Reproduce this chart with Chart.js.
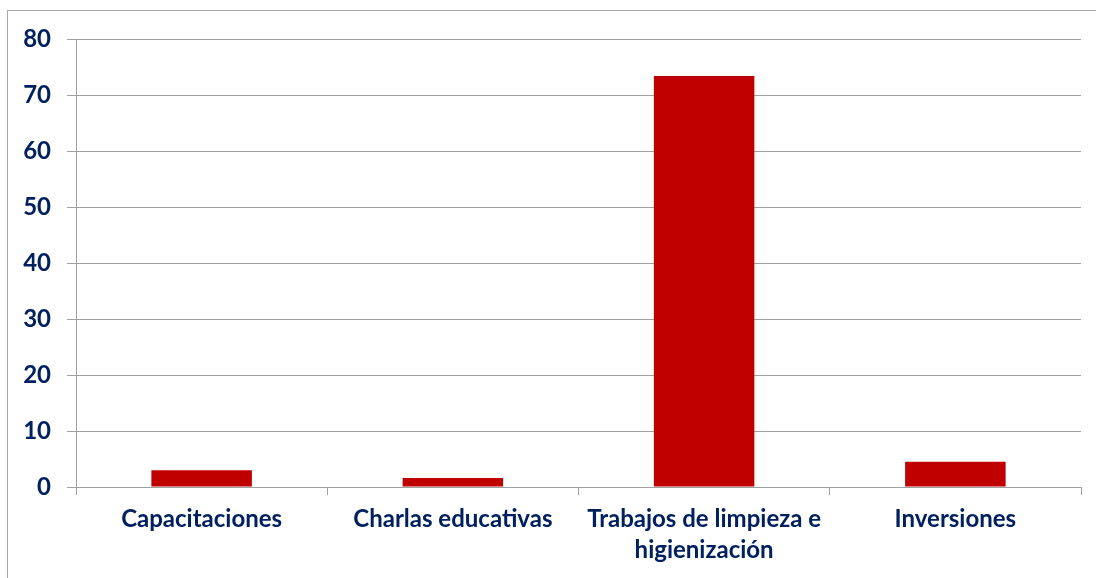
<!DOCTYPE html>
<html>
<head>
<meta charset="utf-8">
<script src="https://cdn.jsdelivr.net/npm/chart.js@4.4.1/dist/chart.umd.min.js"></script>
<style>
  html, body { margin: 0; padding: 0; background: #fff; overflow: hidden; }
  #wrap { position: relative; width: 1096px; height: 578px; }
  #frame {
    position: absolute; left: 7px; top: 10px; width: 1200px; height: 700px;
    border: 1px solid #a6a6a6; box-sizing: border-box;
  }
  canvas { position: absolute; left: 0; top: 0; }
</style>
</head>
<body>
<div id="wrap">
  <div id="frame"></div>
  <canvas id="barChart" width="1096" height="578"></canvas>
</div>
<script>
// Actividades - valores
const categories = [
    'Capacitaciones',
    'Charlas educativas',
    ['Trabajos de limpieza e', 'higienización'],
    'Inversiones'
];
const values = [3.0, 1.6, 73.4, 4.5];
const yTicks = [0, 10, 20, 30, 40, 50, 60, 70, 80];

const navy = '#002060';
const gridGray = '#a0a0a0';

const barData = {
    labels: categories,
    datasets: [{
        data: values,
        backgroundColor: '#c00000',
        barPercentage: 0.4,
        categoryPercentage: 1.0
    }]
};

const config = {
    type: 'bar',
    data: barData,
    options: {
        responsive: false,
        animation: false,
        layout: {
            padding: { top: 39, right: 15, left: 0, bottom: 0 }
        },
        plugins: {
            legend: { display: false },
            tooltip: { enabled: false }
        },
        scales: {
            x: {
                grid: {
                    offset: true,
                    drawOnChartArea: false,
                    tickLength: 8,
                    color: gridGray
                },
                border: { color: gridGray },
                ticks: {
                    color: navy,
                    maxRotation: 0,
                    autoSkip: false,
                    padding: 9,
                    font: { family: 'Lato', weight: 'bold', size: 24, lineHeight: 1.28 }
                },
                afterFit: function (scale) { scale.height = 91; }
            },
            y: {
                min: 0,
                max: 80,
                afterBuildTicks: function (scale) {
                    scale.ticks = yTicks.map(v => ({ value: v }));
                },
                grid: {
                    color: gridGray,
                    tickLength: 9
                },
                border: { color: gridGray },
                ticks: {
                    color: navy,
                    padding: 16,
                    font: { family: 'Lato', weight: 'bold', size: 24 }
                },
                afterFit: function (scale) { scale.width = 76; }
            }
        }
    }
};

var barChart = new Chart(
    document.getElementById('barChart'),
    config
);
</script>
</body>
</html>
